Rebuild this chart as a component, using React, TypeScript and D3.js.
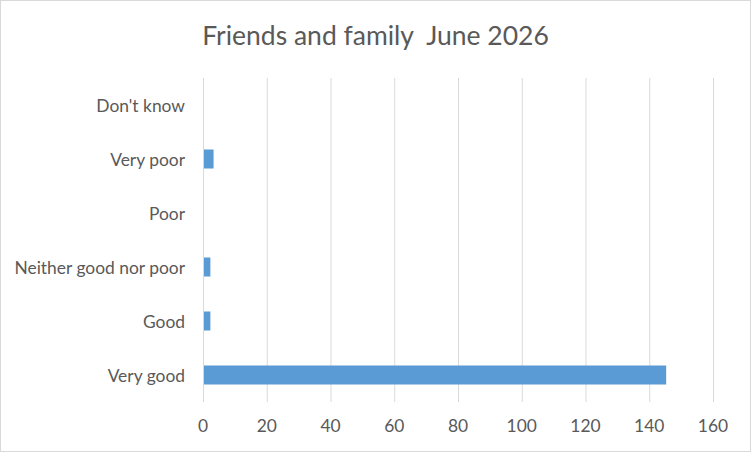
import { useEffect, useRef } from 'react';
import * as d3 from 'd3';

const categories = ['Very good', 'Good', 'Neither good nor poor', 'Poor', 'Very poor', "Don't know"];
const counts = [145, 2, 2, 0, 3, 0];
const xTicks = [0, 20, 40, 60, 80, 100, 120, 140, 160];
const title = 'Friends and family  June 2026';

export default function App() {
  const svgRef = useRef<SVGSVGElement>(null);

  useEffect(() => {
    document.body.style.margin = '0';
    if (!svgRef.current) return;

    const svg = d3.select(svgRef.current);
    svg.selectAll('*').remove();

    const width = 751;
    const height = 452;
    const plot = { left: 203, right: 713, top: 78, bottom: 402 };
    const font = 'Lato, "Open Sans", sans-serif';
    const textColor = '#595959';
    const gridColor = '#d9d9d9';

    svg.append('rect')
      .attr('x', 0.5)
      .attr('y', 0.5)
      .attr('width', width - 1)
      .attr('height', height - 1)
      .attr('fill', '#fff')
      .attr('stroke', gridColor);

    const xScale = d3.scaleLinear()
      .domain([0, 160])
      .range([plot.left, plot.right]);

    // first category at the bottom
    const yScale = d3.scaleBand<string>()
      .domain([...categories].reverse())
      .range([plot.top, plot.bottom])
      .paddingInner(0.648)
      .paddingOuter(0.324);

    svg.append('g')
      .selectAll('line')
      .data(xTicks)
      .enter().append('line')
      .attr('x1', d => xScale(d) + 0.5)
      .attr('x2', d => xScale(d) + 0.5)
      .attr('y1', plot.top)
      .attr('y2', plot.bottom)
      .attr('stroke', gridColor)
      .attr('stroke-width', 1);

    svg.append('g')
      .selectAll('rect')
      .data(categories.map((c, i) => ({ c, v: counts[i] })))
      .enter().append('rect')
      .attr('x', xScale(0) + 1)
      .attr('y', d => yScale(d.c) as number)
      .attr('width', d => Math.max(0, xScale(d.v) - xScale(0)))
      .attr('height', yScale.bandwidth())
      .attr('fill', '#5b9bd5');

    svg.append('g')
      .selectAll('text')
      .data(xTicks)
      .enter().append('text')
      .attr('x', d => xScale(d))
      .attr('y', 432)
      .attr('text-anchor', 'middle')
      .style('font-family', font)
      .style('font-size', '17.4px')
      .attr('fill', textColor)
      .text(d => d);

    svg.append('g')
      .selectAll('text')
      .data(categories)
      .enter().append('text')
      .attr('x', 185)
      .attr('y', d => (yScale(d) as number) + yScale.bandwidth() / 2 + 6.5)
      .attr('text-anchor', 'end')
      .style('font-family', font)
      .style('font-size', '17.4px')
      .attr('fill', textColor)
      .text(d => d);

    svg.append('text')
      .attr('x', 375.5)
      .attr('y', 45)
      .attr('text-anchor', 'middle')
      .style('font-family', font)
      .style('font-size', '26.5px')
      .style('white-space', 'pre')
      .attr('fill', textColor)
      .text(title);
  }, []);

  return <svg ref={svgRef} width={751} height={452} style={{ display: 'block' }}></svg>;
}
